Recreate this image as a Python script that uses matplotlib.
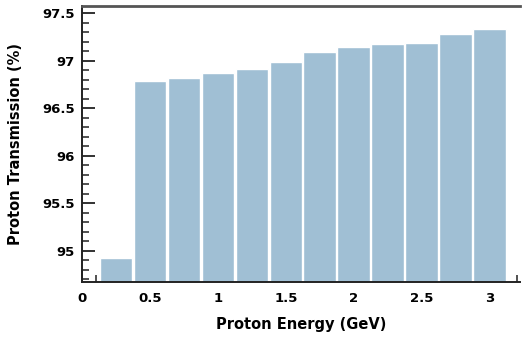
import matplotlib.pyplot as plt
from matplotlib.ticker import MultipleLocator
import numpy as np

energy = [0.25, 0.5, 0.75, 1.0, 1.25, 1.5, 1.75, 2.0, 2.25, 2.5, 2.75, 3.0]
transmission = [94.93, 96.79, 96.82, 96.87, 96.91, 96.99, 97.09, 97.14, 97.18, 97.19, 97.28, 97.33]
xticks = [0, 0.5, 1, 1.5, 2, 2.5, 3]
xlabels = ['0', '0.5', '1', '1.5', '2', '2.5', '3']
yticks = [95, 95.5, 96, 96.5, 97, 97.5]
ylabels = ['95', '95.5', '96', '96.5', '97', '97.5']

plt.rcParams['font.family'] = ['DejaVu Sans']
plt.rcParams['font.weight'] = 'bold'

fig = plt.figure(figsize=(5.24, 3.38), dpi=100)
ax = fig.add_axes([0.1565, 0.166, 0.835, 0.816])

ax.bar(energy, [t - 90 for t in transmission], bottom=90, width=0.24,
       color='#a0bfd4', edgecolor='white', linewidth=1.0, zorder=2)
ax.set_axisbelow(True)

ax.set_xlim(0, 3.22)
ax.set_ylim(94.674, 97.574)
ax.set_xticks(xticks)
ax.set_xticklabels(xlabels)
ax.set_yticks(yticks)
ax.set_yticklabels(ylabels)
ax.xaxis.set_minor_locator(MultipleLocator(0.1))
ax.yaxis.set_minor_locator(MultipleLocator(0.1))

ax.tick_params(axis='both', which='major', direction='in', length=9, width=1.3,
               labelsize=9.5, color='#222222', pad=5)
ax.tick_params(axis='both', which='minor', direction='in', length=5, width=1.1,
               color='#222222')
ax.tick_params(axis='x', which='major', pad=7)

for lbl in ax.get_xticklabels() + ax.get_yticklabels():
    lbl.set_fontweight('bold')

ax.spines['right'].set_visible(False)
ax.spines['top'].set_color('#555555')
ax.spines['top'].set_linewidth(2)
ax.spines['left'].set_color('#222222')
ax.spines['left'].set_linewidth(1.4)
ax.spines['bottom'].set_color('#222222')
ax.spines['bottom'].set_linewidth(1.4)

ax.set_xlabel('Proton Energy (GeV)', fontsize=10.5, fontweight='bold', labelpad=9)
ax.set_ylabel('Proton Transmission (%)', fontsize=10.5, fontweight='bold', labelpad=14)

fig.savefig('out.png', dpi=100)
